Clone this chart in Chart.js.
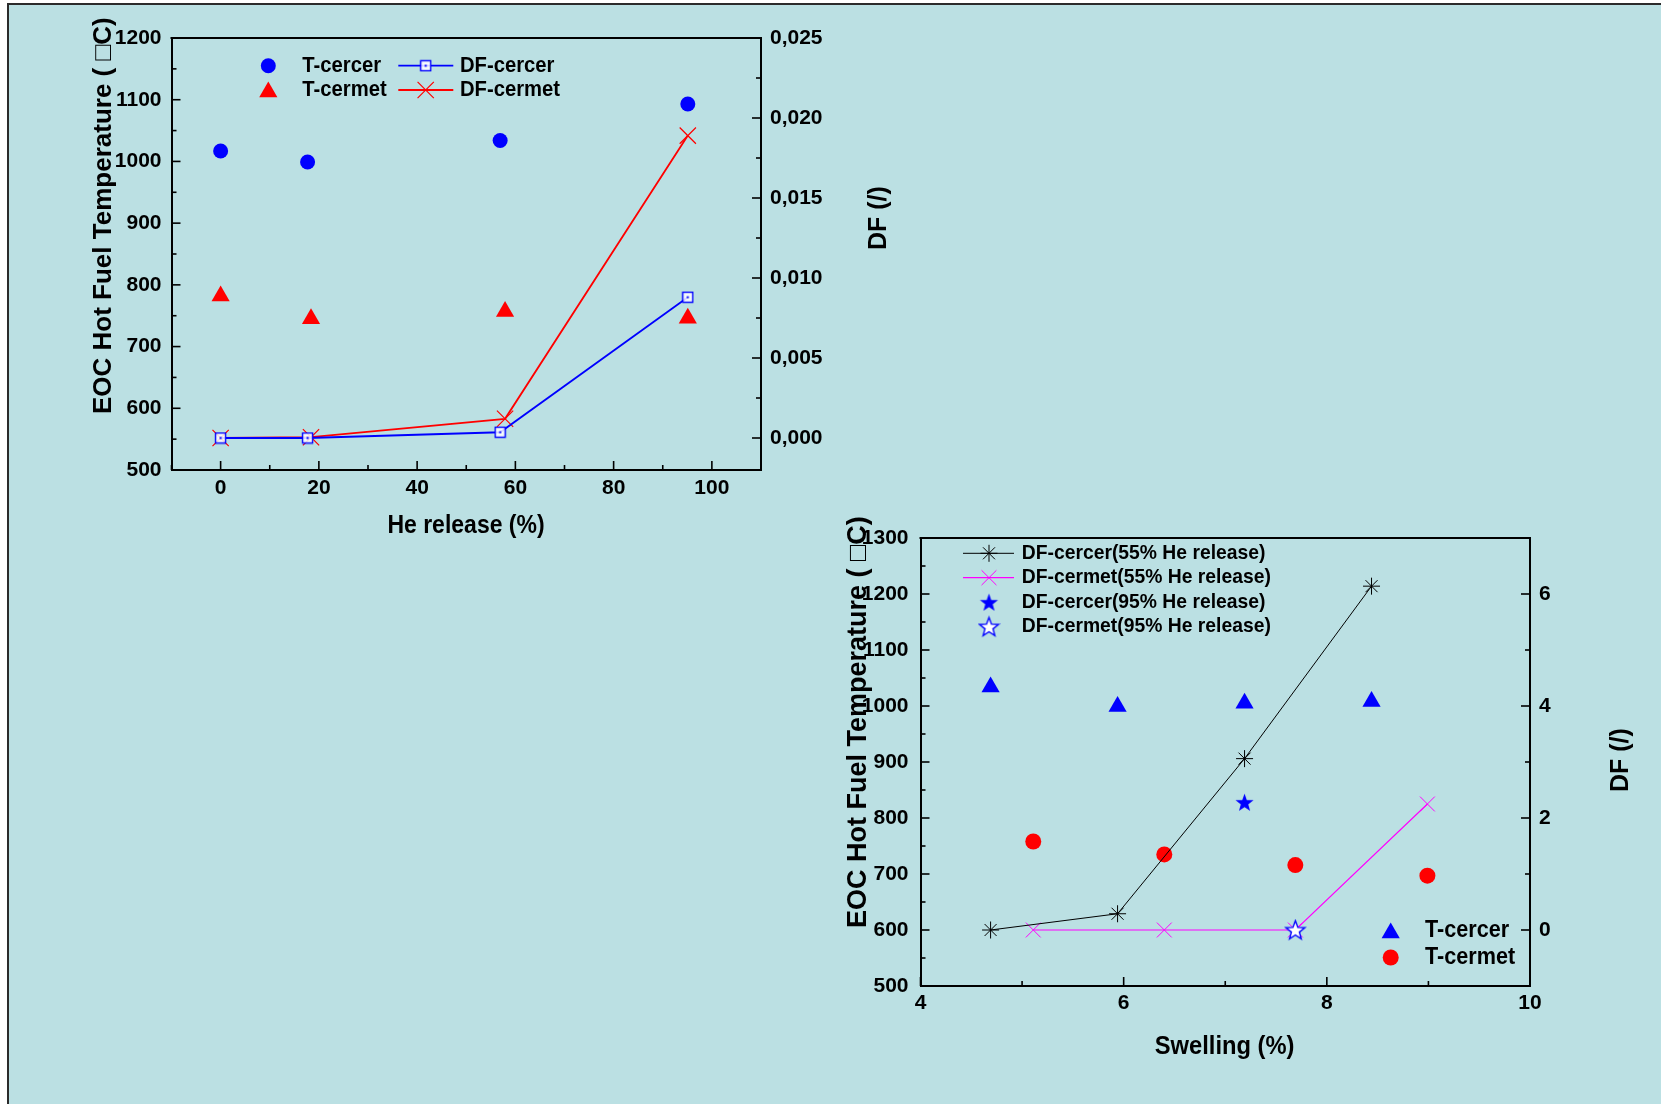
<!DOCTYPE html>
<html>
<head>
<meta charset="utf-8">
<script src="https://cdn.jsdelivr.net/npm/chart.js@4.4.1/dist/chart.umd.min.js"></script>
<style>
  html, body { margin: 0; padding: 0; background: #fff; }
  #page { position: relative; width: 1661px; height: 1104px; overflow: hidden; }
  #frame { position: absolute; left: 7px; top: 3px; right: 0; bottom: 0; background: #bbe0e3;
           border-left: 2px solid #2b2b2b; border-top: 2px solid #2b2b2b; }
  canvas { position: absolute; }
</style>
</head>
<body>
<div id="page">
  <div id="frame"></div>
  <canvas id="heChart" width="940" height="560" style="left:0;top:0"></canvas>
  <canvas id="swChart" width="901" height="624" style="left:760px;top:480px"></canvas>
</div>
<script>
// He release chart
const heCercerX = [0, 17.7, 56.9, 95.1];
const heCermetX = [0, 18.4, 57.9, 95.1];
const tCercerHe = [1017, 999, 1034, 1093];
const tCermetHe = [782, 745, 757, 746];
const dfCercerHe = [0, 0, 0.00036, 0.0088];
const dfCermetHe = [0, 0.00005, 0.0012, 0.0189];

// Swelling chart
const swCercerX = [4.69, 5.94, 7.19, 8.44];
const swCermetX = [5.11, 6.40, 7.69, 8.99];
const tCercerSw = [1034, 999, 1005, 1008];
const tCermetSw = [758, 735, 716, 697];
const dfCercer55 = [0, 0.29, 3.06, 6.14];
const dfCermet55 = [0, 0, 0, 2.25];
const dfCercer95X = [7.19];
const dfCercer95 = [2.28];
const dfCermet95X = [7.69];
const dfCermet95 = [0];

// axis ranges: [min, max, minor step, labelled step]
const heXRange = [-10, 110, 10, 20];
const heTempRange = [500, 1200, 50, 100];
const heDfRange = [-0.002, 0.025, 0.0025, 0.005];
const swXRange = [4, 10, 1, 2];
const swTempRange = [500, 1300, 50, 100];
const swDfRange = [-1, 7, 1, 2];

const FONT = "'Liberation Sans', Arial, Helvetica, sans-serif";
const BLUE = '#0000ff', RED = '#ff0000', MAGENTA = '#ff00ff';
const SQUEEZE = 0.92; // the original text is slightly condensed

const pts = (xs, ys) => xs.map((x, i) => ({ x, y: ys[i] }));
const isMul = (v, step) => Math.abs(v / step - Math.round(v / step)) < 1e-6;

// small marker images
function markerCanvas(size, draw) {
  const c = document.createElement('canvas');
  c.width = c.height = size;
  draw(c.getContext('2d'), size / 2);
  return c;
}
function starPath(ctx, cx, cy, ro, ri) {
  ctx.beginPath();
  for (let i = 0; i < 10; i++) {
    const r = i % 2 ? ri : ro;
    const a = -Math.PI / 2 + i * Math.PI / 5;
    ctx.lineTo(cx + r * Math.cos(a), cy + r * Math.sin(a));
  }
  ctx.closePath();
}
const squareDot = markerCanvas(13, (c) => {
  c.fillStyle = 'rgba(255,255,255,0.85)';
  c.fillRect(1.5, 1.5, 10, 10);
  c.strokeStyle = BLUE; c.lineWidth = 1.4;
  c.strokeRect(1.5, 1.5, 10, 10);
  c.fillStyle = BLUE; c.fillRect(5.5, 5.5, 2, 2);
});
const starFilled = markerCanvas(21, (c, m) => {
  starPath(c, m, m + 0.8, 9.5, 3.9);
  c.fillStyle = BLUE; c.fill();
});
const starOpen = markerCanvas(23, (c, m) => {
  starPath(c, m, m + 0.8, 10, 4.2);
  c.fillStyle = '#fff'; c.fill();
  c.strokeStyle = BLUE; c.lineWidth = 1.4; c.stroke();
});

function drawMarker(ctx, ds, x, y) {
  const st = ds.pointStyle;
  if (st instanceof HTMLCanvasElement) {
    ctx.drawImage(st, x - st.width / 2, y - st.height / 2);
    return;
  }
  ctx.fillStyle = ds.pointBackgroundColor;
  ctx.strokeStyle = ds.pointBorderColor;
  ctx.lineWidth = ds.pointBorderWidth;
  Chart.helpers.drawPoint(ctx, {
    pointStyle: st, radius: ds.pointRadius, rotation: 0, borderWidth: ds.pointBorderWidth
  }, x, y);
}

function axis(position, range, pad, size, fmt) {
  const [min, max, minor, major] = range;
  return {
    type: 'linear', position, min, max,
    grid: { display: false, drawTicks: false },
    border: { display: true, color: '#000', width: 2 },
    ticks: {
      stepSize: minor, autoSkip: false, maxRotation: 0, minRotation: 0,
      padding: pad, color: '#000',
      font: { family: FONT, size: 21, weight: 'bold' },
      callback: v => isMul(v, major) ? fmt(v) : ''
    },
    afterFit: s => { if (s.isHorizontal()) s.height = size; else s.width = size; }
  };
}

// inward tick marks + top frame line
function inwardTicks(steps) {
  return {
    id: 'inwardTicks',
    afterDraw(chart) {
      const { ctx, chartArea: a } = chart;
      ctx.save();
      ctx.strokeStyle = '#000';
      ctx.lineWidth = 1.6;
      Object.keys(steps).forEach(id => {
        const s = chart.scales[id];
        const [, , minor, major] = steps[id];
        const first = Math.ceil(s.min / minor - 1e-6);
        const last = Math.floor(s.max / minor + 1e-6);
        for (let i = first; i <= last; i++) {
          const v = i * minor;
          const len = isMul(v, major) ? 9 : 5;
          const p = s.getPixelForValue(v);
          ctx.beginPath();
          if (s.isHorizontal()) { ctx.moveTo(p, a.bottom); ctx.lineTo(p, a.bottom - len); }
          else if (s.position === 'left') { ctx.moveTo(a.left, p); ctx.lineTo(a.left + len, p); }
          else { ctx.moveTo(a.right, p); ctx.lineTo(a.right - len, p); }
          ctx.stroke();
        }
      });
      ctx.lineWidth = 2;
      ctx.beginPath();
      ctx.moveTo(a.left - 1, a.top);
      ctx.lineTo(a.right + 1, a.top);
      ctx.stroke();
      ctx.restore();
    }
  };
}

function squeezedText(ctx, text, x, y, size, align) {
  ctx.save();
  ctx.translate(x, y);
  ctx.scale(SQUEEZE, 1);
  ctx.font = `bold ${size}px ${FONT}`;
  ctx.fillStyle = '#000';
  ctx.textAlign = align;
  ctx.textBaseline = 'middle';
  ctx.fillText(text, 0, 0);
  ctx.restore();
}

// legend entries placed by page coordinates
function legendBox(origin, items) {
  return {
    id: 'legendBox',
    afterDraw(chart) {
      const ctx = chart.ctx;
      const [ox, oy] = origin;
      ctx.save();
      items.forEach(it => {
        const ds = chart.data.datasets[it.ds];
        const y = it.y - oy;
        if (it.line) {
          ctx.strokeStyle = ds.borderColor;
          ctx.lineWidth = ds.borderWidth;
          ctx.beginPath();
          ctx.moveTo(it.line[0] - ox, y);
          ctx.lineTo(it.line[1] - ox, y);
          ctx.stroke();
        }
        drawMarker(ctx, ds, it.mx - ox, (it.my || it.y) - oy);
        squeezedText(ctx, ds.label, it.tx - ox, y, it.font, 'left');
      });
      ctx.restore();
    }
  };
}

function axisTitles(origin, titles) {
  return {
    id: 'axisTitles',
    afterDraw(chart) {
      const ctx = chart.ctx;
      const [ox, oy] = origin;
      titles.forEach(t => {
        if (!t.rot) {
          squeezedText(ctx, t.text, t.x - ox, t.y - oy, t.size, t.align);
          return;
        }
        ctx.save();
        ctx.translate(t.x - ox, t.y - oy);
        ctx.rotate(-Math.PI / 2);
        ctx.font = `bold ${t.size}px ${FONT}`;
        ctx.fillStyle = '#000';
        ctx.textAlign = t.align;
        ctx.textBaseline = 'middle';
        ctx.fillText(t.text, 0, 0);
        ctx.restore();
      });
    }
  };
}

const common = {
  responsive: false,
  devicePixelRatio: 1,
  animation: false,
  events: [],
  plugins: { legend: { display: false }, tooltip: { enabled: false } }
};

const num = v => String(v);
const comma3 = v => v.toFixed(3).replace('.', ',');

// ---- chart 1: He release ----
const heOrigin = [0, 0];
new Chart(document.getElementById('heChart'), {
  type: 'scatter',
  data: {
    datasets: [
      { label: 'T-cercer', data: pts(heCercerX, tCercerHe), yAxisID: 'y', showLine: false,
        pointStyle: 'circle', pointRadius: 7.5, pointBackgroundColor: BLUE, pointBorderColor: BLUE, pointBorderWidth: 0 },
      { label: 'DF-cercer', data: pts(heCercerX, dfCercerHe), yAxisID: 'y1', showLine: true,
        borderColor: BLUE, borderWidth: 1.8, pointStyle: squareDot, pointRadius: 6 },
      { label: 'T-cermet', data: pts(heCermetX, tCermetHe), yAxisID: 'y', showLine: false,
        pointStyle: 'triangle', pointRadius: 10.5, pointBackgroundColor: RED, pointBorderColor: RED, pointBorderWidth: 0 },
      { label: 'DF-cermet', data: pts(heCermetX, dfCermetHe), yAxisID: 'y1', showLine: true,
        borderColor: RED, borderWidth: 1.8, pointStyle: 'crossRot', pointRadius: 11.5,
        pointBackgroundColor: RED, pointBorderColor: RED, pointBorderWidth: 1.2 }
    ]
  },
  options: {
    ...common,
    layout: { padding: { top: 38, left: 0, right: 0, bottom: 0 }, autoPadding: false },
    scales: {
      x: axis('bottom', heXRange, 6, 90, num),
      y: axis('left', heTempRange, 10, 171.5, num),
      y1: axis('right', heDfRange, 9, 179, comma3)
    }
  },
  plugins: [
    inwardTicks({ x: heXRange, y: heTempRange, y1: heDfRange }),
    legendBox(heOrigin, [
      { ds: 0, mx: 268.3, y: 65.7, tx: 302.3, font: 22 },
      { ds: 1, mx: 425.7, y: 65.7, tx: 460, font: 22, line: [398.3, 453.3] },
      { ds: 2, mx: 268.3, my: 92, y: 90, tx: 302.3, font: 22 },
      { ds: 3, mx: 425.7, y: 90, tx: 460, font: 22, line: [398.3, 453.3] }
    ]),
    axisTitles(heOrigin, [
      { text: 'EOC Hot Fuel Temperature ( \u25A1C)', x: 104, y: 414, rot: true, align: 'left', size: 26 },
      { text: 'DF (/)', x: 879, y: 250, rot: true, align: 'left', size: 25 },
      { text: 'He release (%)', x: 466, y: 526, rot: false, align: 'center', size: 25 }
    ])
  ]
});

// ---- chart 2: swelling ----
const swOrigin = [760, 480];
new Chart(document.getElementById('swChart'), {
  type: 'scatter',
  data: {
    datasets: [
      { label: 'DF-cercer(55% He release)', data: pts(swCercerX, dfCercer55), yAxisID: 'y1', showLine: true,
        borderColor: '#000', borderWidth: 1, pointStyle: 'star', pointRadius: 8.5,
        pointBackgroundColor: '#000', pointBorderColor: '#000', pointBorderWidth: 1 },
      { label: 'DF-cermet(55% He release)', data: pts(swCermetX, dfCermet55), yAxisID: 'y1', showLine: true,
        borderColor: MAGENTA, borderWidth: 1.2, pointStyle: 'crossRot', pointRadius: 10.5,
        pointBackgroundColor: MAGENTA, pointBorderColor: MAGENTA, pointBorderWidth: 1 },
      { label: 'DF-cercer(95% He release)', data: pts(dfCercer95X, dfCercer95), yAxisID: 'y1', showLine: false,
        pointStyle: starFilled, pointRadius: 6, order: -1 },
      { label: 'DF-cermet(95% He release)', data: pts(dfCermet95X, dfCermet95), yAxisID: 'y1', showLine: false,
        pointStyle: starOpen, pointRadius: 6, order: -1 },
      { label: 'T-cercer', data: pts(swCercerX, tCercerSw), yAxisID: 'y', showLine: false,
        pointStyle: 'triangle', pointRadius: 10.5, pointBackgroundColor: BLUE, pointBorderColor: BLUE, pointBorderWidth: 0 },
      { label: 'T-cermet', data: pts(swCermetX, tCermetSw), yAxisID: 'y', showLine: false,
        pointStyle: 'circle', pointRadius: 8, pointBackgroundColor: RED, pointBorderColor: RED, pointBorderWidth: 0 }
    ]
  },
  options: {
    ...common,
    layout: { padding: { top: 58, left: 0, right: 0, bottom: 0 }, autoPadding: false },
    scales: {
      x: axis('bottom', swXRange, 5, 118, num),
      y: axis('left', swTempRange, 12, 160.5, num),
      y1: axis('right', swDfRange, 9, 131, num)
    }
  },
  plugins: [
    inwardTicks({ x: swXRange, y: swTempRange, y1: swDfRange }),
    legendBox(swOrigin, [
      { ds: 0, mx: 989, y: 553.3, tx: 1021.7, font: 21, line: [963, 1014] },
      { ds: 1, mx: 989, y: 577.7, tx: 1021.7, font: 21, line: [963, 1014] },
      { ds: 2, mx: 989, y: 602.3, tx: 1021.7, font: 21 },
      { ds: 3, mx: 989, y: 626.7, tx: 1021.7, font: 21 },
      { ds: 4, mx: 1390.7, my: 933, y: 931, tx: 1425, font: 23.5 },
      { ds: 5, mx: 1390.7, y: 957.5, tx: 1425, font: 23.5 }
    ]),
    axisTitles(swOrigin, [
      { text: 'EOC Hot Fuel Temperature ( \u25A1C)', x: 858.5, y: 928, rot: true, align: 'left', size: 27 },
      { text: 'DF (/)', x: 1621, y: 792, rot: true, align: 'left', size: 25 },
      { text: 'Swelling (%)', x: 1224.6, y: 1046.5, rot: false, align: 'center', size: 25.8 }
    ])
  ]
});
</script>
</body>
</html>
